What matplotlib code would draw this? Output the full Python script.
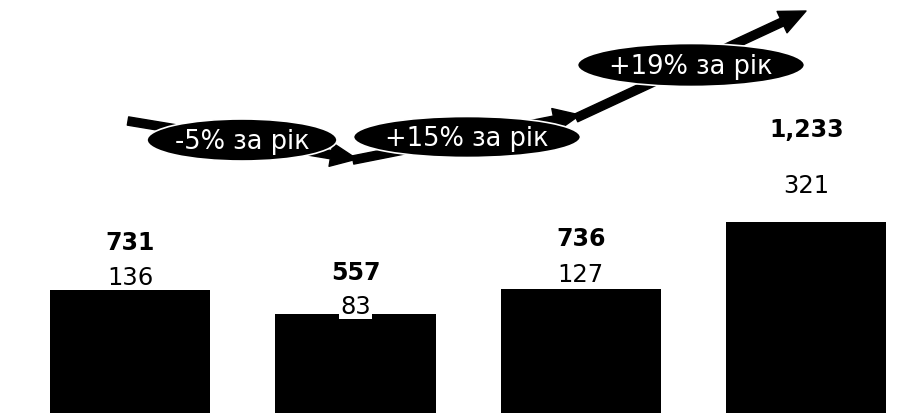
import matplotlib
matplotlib.use("Agg")
import matplotlib.pyplot as plt
import numpy as np
from matplotlib.patches import Ellipse, FancyArrowPatch, ArrowStyle

# обсяги по роках: загалом та верхня частина стовпчика
totals = [731, 557, 736, 1233]
tops = [136, 83, 127, 321]
total_labels = ["731", "557", "736", "1,233"]
growth = ["-5% за рік", "+15% за рік", "+19% за рік"]

fig = plt.figure(figsize=(9.1, 4.14), dpi=100)
ax = fig.add_axes([0, 0, 1, 1])

x = np.arange(len(totals))
ymin, ymax = -177, 2878
lower = np.array(totals) - np.array(tops)
ax.bar(x, lower - ymin, bottom=ymin, width=0.71, color="black", linewidth=0)
ax.bar(x, tops, bottom=lower, width=0.71, color="black", linewidth=0)
ax.set_xlim(-0.577, 3.46)
ax.set_ylim(ymin, ymax)
ax.axis("off")

# відступи підписів над стовпчиками (в пікселях)
top_off = [13, 8, 15, 37]
tot_off = [48, 42, 51, 93]
for i in x:
    ax.annotate(str(tops[i]), (i, totals[i]), xytext=(0, top_off[i] * 0.72),
                textcoords="offset points", ha="center", va="center",
                fontsize=17.5, color="black",
                bbox=dict(fc="white", ec="none", pad=1))
    ax.annotate(total_labels[i], (i, totals[i]), xytext=(0, tot_off[i] * 0.72),
                textcoords="offset points", ha="center", va="center",
                fontsize=17, fontweight="bold", color="black")

# стрілки та овали з темпами росту, координати в пікселях
ov = fig.add_axes([0, 0, 1, 1], zorder=2)
ov.set_xlim(0, 910)
ov.set_ylim(414, 0)
ov.axis("off")

arrows = [((128, 122), (357, 160)), ((353, 161), (580, 116)), ((576, 119), (806, 12))]
ovals = [(242, 141, 190, 42), (467, 138, 227, 41), (691, 66, 227, 43)]

style = ArrowStyle("simple", head_length=0.95, head_width=0.85, tail_width=0.3)
for (a, b) in arrows:
    ov.add_patch(FancyArrowPatch(a, b, arrowstyle=style, mutation_scale=20,
                                 color="black", shrinkA=0, shrinkB=0, zorder=1))

for (cx, cy, w, h), txt in zip(ovals, growth):
    ov.add_patch(Ellipse((cx, cy), w, h, fc="black", ec="white", lw=1.2, zorder=2))
    ov.text(cx, cy + 1, txt, color="white", fontsize=18.5, ha="center", va="center", zorder=3)

fig.savefig("out.png", dpi=100, facecolor="white")
